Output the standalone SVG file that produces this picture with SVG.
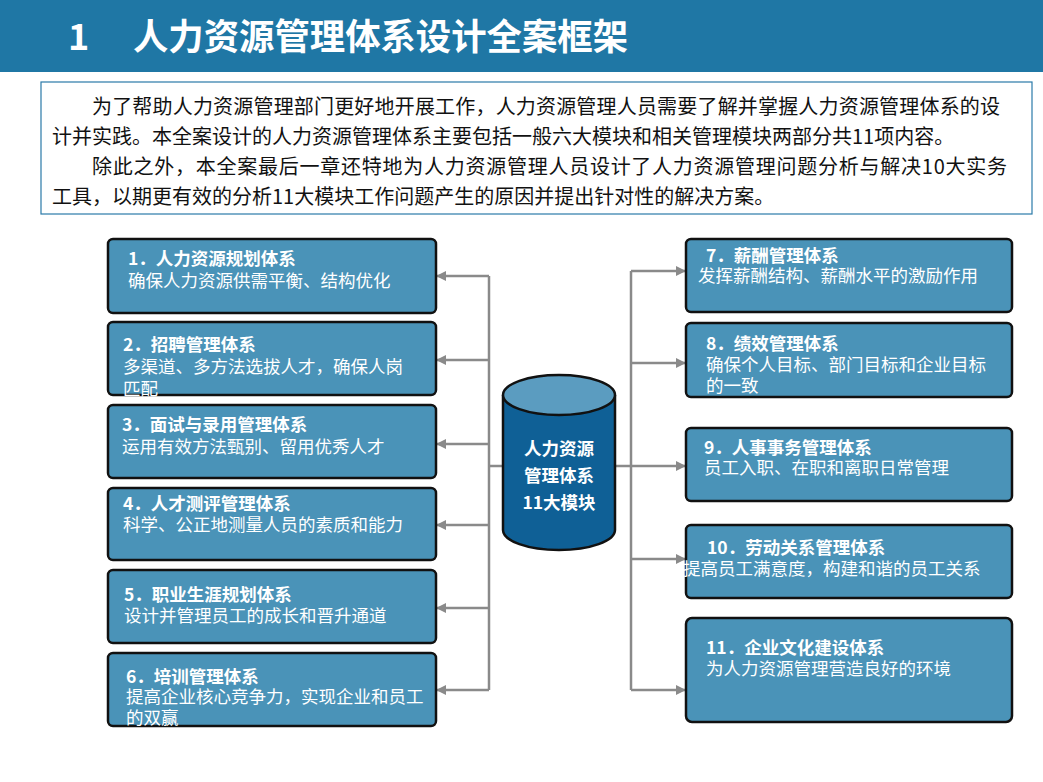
<svg xmlns="http://www.w3.org/2000/svg" width="1043" height="782" viewBox="0 0 1043 782">
<defs>
<style>
.b{fill:#4a93b8;stroke:#111;stroke-width:2.5}
.t{font-family:"Noto Sans CJK SC","Liberation Sans",sans-serif;fill:#fff;font-size:17.5px}
.h{font-weight:bold}
.c{stroke:#8a8a8a;stroke-width:2.5;fill:none}
.p{font-family:"Noto Sans CJK SC","Liberation Sans",sans-serif;fill:#111;font-size:20px}
</style>
<marker id="a" viewBox="0 0 10 10" refX="9" refY="5" markerWidth="4" markerHeight="4" orient="auto"><path d="M0,0L10,5L0,10z" fill="#8a8a8a"/></marker>
</defs>
<rect width="1043" height="782" fill="#fff"/>
<g id="header"><rect x="0" y="0" width="1043" height="72" fill="#1f77a5"/>
<text x="68" y="50" font-family="Noto Sans CJK SC,sans-serif" font-weight="bold" font-size="36" fill="#fff">1</text>
<text x="133" y="50" font-family="Noto Sans CJK SC,sans-serif" font-weight="bold" font-size="36" textLength="495" lengthAdjust="spacingAndGlyphs" fill="#fff">人力资源管理体系设计全案框架</text></g>
<g id="intro"><rect x="41" y="82" width="991" height="132" fill="#fff" stroke="#2a7aa8" stroke-width="1.2"/>
<text class="p" x="92" y="114" textLength="908">为了帮助人力资源管理部门更好地开展工作，人力资源管理人员需要了解并掌握人力资源管理体系的设</text>
<text class="p" x="52" y="144">计并实践。本全案设计的人力资源管理体系主要包括一般六大模块和相关管理模块两部分共11项内容。</text>
<text class="p" x="92" y="174" textLength="915">除此之外，本全案最后一章还特地为人力资源管理人员设计了人力资源管理问题分析与解决10大实务</text>
<text class="p" x="52" y="204">工具，以期更有效的分析11大模块工作问题产生的原因并提出针对性的解决方案。</text></g>
<g id="connectors">
<path class="c" d="M489,276V690M503,466H489M615,466H631M631,271V690"/>
<path class="c" marker-end="url(#a)" d="M489,276H437"/>
<path class="c" marker-end="url(#a)" d="M489,360H437"/>
<path class="c" marker-end="url(#a)" d="M489,444H437"/>
<path class="c" marker-end="url(#a)" d="M489,525H437"/>
<path class="c" marker-end="url(#a)" d="M489,608H437"/>
<path class="c" marker-end="url(#a)" d="M489,690H437"/>
<path class="c" marker-end="url(#a)" d="M631,271H685"/>
<path class="c" marker-end="url(#a)" d="M631,363H685"/>
<path class="c" marker-end="url(#a)" d="M631,466H685"/>
<path class="c" marker-end="url(#a)" d="M631,559H685"/>
<path class="c" marker-end="url(#a)" d="M631,690H685"/>
</g>
<g id="center">
<path d="M503,395V530A56,20 0 0 0 615,530V395" fill="#0f6096" stroke="#111" stroke-width="2.5"/>
<ellipse cx="559" cy="395" rx="56" ry="20" fill="#5b9cc0" stroke="#111" stroke-width="2.5"/>
<text class="t h" font-size="22" text-anchor="middle"><tspan x="559" y="455">人力资源</tspan><tspan x="559" y="482">管理体系</tspan><tspan x="559" y="509">11大模块</tspan></text>
</g>
<g id="n1"><rect class="b" x="108" y="239" width="328" height="74" rx="5"/><text class="t h" x="128" y="265">1．人力资源规划体系</text><text class="t" x="128" y="287">确保人力资源供需平衡、结构优化</text></g>
<g id="n2"><rect class="b" x="108" y="322" width="328" height="73" rx="5"/><text class="t h" x="123" y="351">2．招聘管理体系</text><text class="t" x="123" y="373">多渠道、多方法选拔人才，确保人岗</text><text class="t" x="123" y="395">匹配</text></g>
<g id="n3"><rect class="b" x="108" y="405" width="328" height="73" rx="5"/><text class="t h" x="122" y="431">3．面试与录用管理体系</text><text class="t" x="122" y="453">运用有效方法甄别、留用优秀人才</text></g>
<g id="n4"><rect class="b" x="108" y="488" width="328" height="72" rx="5"/><text class="t h" x="123" y="510">4．人才测评管理体系</text><text class="t" x="123" y="531">科学、公正地测量人员的素质和能力</text></g>
<g id="n5"><rect class="b" x="108" y="570" width="328" height="73" rx="5"/><text class="t h" x="124" y="601">5．职业生涯规划体系</text><text class="t" x="124" y="622">设计并管理员工的成长和晋升通道</text></g>
<g id="n6"><rect class="b" x="108" y="653" width="328" height="73" rx="5"/><text class="t h" x="126" y="683">6．培训管理体系</text><text class="t" x="126" y="703">提高企业核心竞争力，实现企业和员工</text><text class="t" x="126" y="724">的双赢</text></g>
<g id="n7"><rect class="b" x="686" y="239" width="326" height="73" rx="5"/><text class="t h" x="706" y="262">7．薪酬管理体系</text><text class="t" x="698" y="282">发挥薪酬结构、薪酬水平的激励作用</text></g>
<g id="n8"><rect class="b" x="686" y="323" width="326" height="74" rx="5"/><text class="t h" x="706" y="350">8．绩效管理体系</text><text class="t" x="706" y="371">确保个人目标、部门目标和企业目标</text><text class="t" x="706" y="392">的一致</text></g>
<g id="n9"><rect class="b" x="686" y="428" width="326" height="73" rx="5"/><text class="t h" x="704" y="454">9．人事事务管理体系</text><text class="t" x="704" y="474">员工入职、在职和离职日常管理</text></g>
<g id="n10"><rect class="b" x="686" y="525" width="326" height="73" rx="5"/><text class="t h" x="707" y="554">10．劳动关系管理体系</text><text class="t" x="683" y="575">提高员工满意度，构建和谐的员工关系</text></g>
<g id="n11"><rect class="b" x="686" y="618" width="326" height="104" rx="6"/><text class="t h" x="706" y="654">11．企业文化建设体系</text><text class="t" x="706" y="675">为人力资源管理营造良好的环境</text></g>
</svg>
